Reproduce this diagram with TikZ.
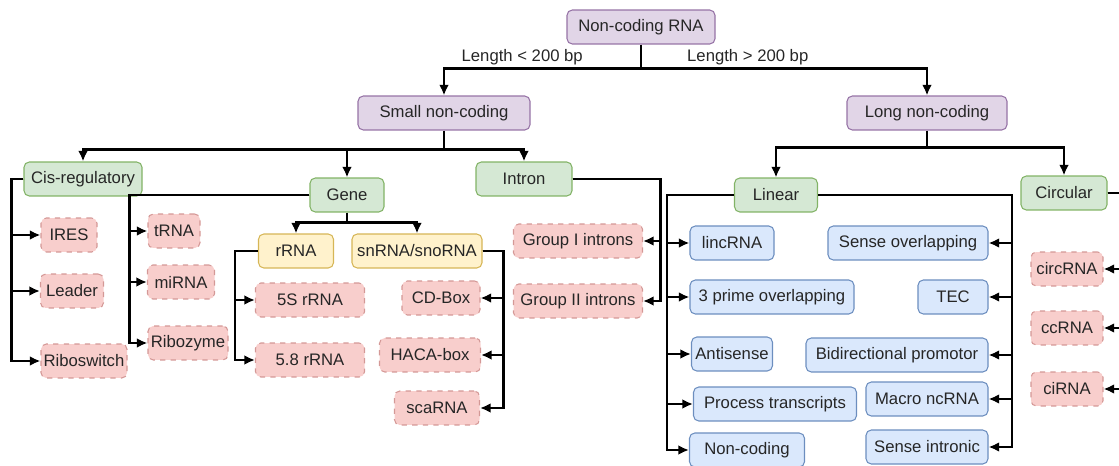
\documentclass[tikz,border=0pt]{standalone}
\usepackage{fontspec}
\setmainfont{Liberation Sans}
\usepackage{xcolor}
\usepackage{tikz}
\usetikzlibrary{positioning, arrows.meta}

\definecolor{purplefill}{HTML}{E1D5E7}
\definecolor{purpleline}{HTML}{9673A6}
\definecolor{greenfill}{HTML}{D5E8D4}
\definecolor{greenline}{HTML}{82B366}
\definecolor{yellowfill}{HTML}{FFF2CC}
\definecolor{yellowline}{HTML}{D6B656}
\definecolor{redfill}{HTML}{F8CECC}
\definecolor{redline}{HTML}{B85450}
\definecolor{bluefill}{HTML}{DAE8FC}
\definecolor{blueline}{HTML}{6C8EBF}

\begin{document}
\begin{tikzpicture}[x=0.02cm, y=-0.02cm,
    every node/.style={font=\fontsize{9.5}{11}\selectfont, text=black!85},
    box/.style={draw, rounded corners=3pt, line width=0.6pt, minimum height=0.68cm, inner sep=1pt},
    purplebox/.style={box, fill=purplefill, draw=purpleline},
    greenbox/.style={box, fill=greenfill, draw=greenline},
    yellowbox/.style={box, fill=yellowfill, draw=yellowline},
    redbox/.style={box, fill=redfill, draw=redline!60, dashed},
    bluebox/.style={box, fill=bluefill, draw=blueline},
    bw/.style={minimum width={#1*0.02cm}},
    link/.style={line width=1.4pt},
    arr/.style={link, -{Latex[length=6pt, width=5.5pt]}}]
    \useasboundingbox (0,0) rectangle (1119,466);
    \clip (0,0) rectangle (1119,466);
    % top levels
    \node[purplebox, bw=148] (root) at (641,27) {Non-coding RNA};
    \node[anchor=east] (lenlt) at (589,57) {Length < 200 bp};
    \node[anchor=west] (lengt) at (681,57) {Length > 200 bp};
    \node[purplebox, bw=172] (small) at (444,113) {Small non-coding};
    \node[purplebox, bw=160] (long) at (927,113) {Long non-coding};
    \node[greenbox, bw=118] (cis) at (83,179) {Cis-regulatory};
    \node[greenbox, bw=74] (gene) at (347,195) {Gene};
    \node[greenbox, bw=96] (intron) at (524,179) {Intron};
    \node[greenbox, bw=83] (linear) at (776,195) {Linear};
    \node[greenbox, bw=86] (circular) at (1064,193) {Circular};
    % small non-coding leaves
    \node[redbox, bw=56] (ires) at (69,235) {IRES};
    \node[redbox, bw=63] (leader) at (72,291) {Leader};
    \node[redbox, bw=86] (riboswitch) at (84,361) {Riboswitch};
    \node[redbox, bw=52] (trna) at (174,231) {tRNA};
    \node[redbox, bw=67] (mirna) at (181,282) {miRNA};
    \node[redbox, bw=80] (ribozyme) at (188,343) {Ribozyme};
    \node[yellowbox, bw=75] (rrna) at (296,251) {rRNA};
    \node[yellowbox, bw=130] (snorna) at (417,251) {snRNA/snoRNA};
    \node[redbox, bw=109] (fives) at (310,300) {5S rRNA};
    \node[redbox, bw=109] (fiveeight) at (310,360) {5.8 rRNA};
    \node[redbox, bw=78] (cdbox) at (441,298) {CD-Box};
    \node[redbox, bw=101] (hacabox) at (430,355) {HACA-box};
    \node[redbox, bw=85] (scarna) at (437,408) {scaRNA};
    \node[redbox, bw=129] (groupone) at (578,241) {Group I introns};
    \node[redbox, bw=129] (grouptwo) at (578,301) {Group II introns};
    % long non-coding leaves
    \node[bluebox, bw=84] (lincrna) at (732,243) {lincRNA};
    \node[bluebox, bw=164] (threeprime) at (772,297) {3 prime overlapping};
    \node[bluebox, bw=81] (antisense) at (732,354) {Antisense};
    \node[bluebox, bw=163] (process) at (775,404) {Process transcripts};
    \node[bluebox, bw=115] (noncoding) at (747,450) {Non-coding};
    \node[bluebox, bw=160] (senseov) at (908,243) {Sense overlapping};
    \node[bluebox, bw=70] (tec) at (953,297) {TEC};
    \node[bluebox, bw=182] (bidir) at (897,355) {Bidirectional promotor};
    \node[bluebox, bw=122] (macro) at (927,399) {Macro ncRNA};
    \node[bluebox, bw=122] (senseint) at (927,447) {Sense intronic};
    \node[redbox, bw=72] (circrna) at (1067,269) {circRNA};
    \node[redbox, bw=72] (ccrna) at (1067,328) {ccRNA};
    \node[redbox, bw=72] (cirna) at (1067,389) {ciRNA};
    % connectors
    \draw[link] (root.south) -- ++(0,24) coordinate (rootj);
    \draw[arr] (rootj) -| (small.north);
    \draw[arr] (rootj) -| (long.north);
    \draw[link] (small.south) -- ++(0,19) coordinate (smallj);
    \foreach \c in {cis, gene, intron}
        \draw[arr] (smallj) -| (\c.north);
    \draw[link] (long.south) -- ++(0,17) coordinate (longj);
    \foreach \c in {linear, circular}
        \draw[arr] (longj) -| (\c.north);
    \foreach \c in {ires, leader, riboswitch}
        \draw[arr] (cis.west) -- ++(-12,0) |- (\c.west);
    \foreach \c in {trna, mirna, ribozyme}
        \draw[arr] (gene.west) -- ++(-180,0) |- (\c.west);
    \draw[link] (gene.south) -- ++(0,10) coordinate (genej);
    \foreach \c in {rrna, snorna}
        \draw[arr] (genej) -| (\c.north);
    \foreach \c in {fives, fiveeight}
        \draw[arr] (rrna.west) -- ++(-23,0) |- (\c.west);
    \foreach \c in {cdbox, hacabox, scarna}
        \draw[arr] (snorna.east) -- ++(21,0) |- (\c.east);
    \foreach \c in {groupone, grouptwo}
        \draw[arr] (intron.east) -- ++(88,0) |- (\c.east);
    \foreach \c in {lincrna, threeprime, antisense, process, noncoding}
        \draw[arr] (linear.west) -- ++(-67,0) |- (\c.west);
    \foreach \c in {senseov, tec, bidir, macro, senseint}
        \draw[arr] (linear.east) -- ++(194,0) |- (\c.east);
    \foreach \c in {circrna, ccrna, cirna}
        \draw[arr] (circular.east) -- ++(20,0) |- (\c.east);
\end{tikzpicture}
\end{document}
